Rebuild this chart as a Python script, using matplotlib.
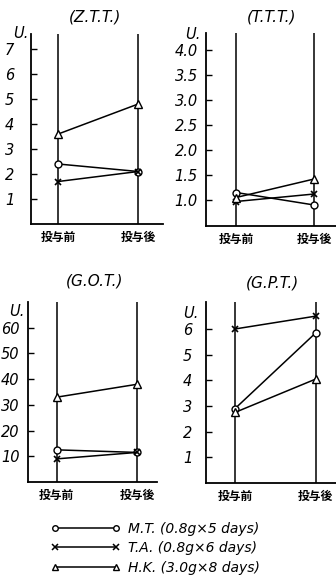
import matplotlib.pyplot as plt
from matplotlib.lines import Line2D
from matplotlib.transforms import blended_transform_factory

plt.rcParams['font.family'] = ['DejaVu Sans', 'Noto Sans CJK JP']

W, H = 336, 580

# x categories
x_pos = [0, 1]
x_labels = ['投与前', '投与後']

# (Z.T.T.)
ztt_mt = [2.4, 2.1]
ztt_ta = [1.7, 2.1]
ztt_hk = [3.6, 4.8]
ztt_ticks = [1, 2, 3, 4, 5, 6, 7]
ztt_ticklabels = ['1', '2', '3', '4', '5', '6', '7']

# (T.T.T.)
ttt_mt = [1.15, 0.9]
ttt_ta = [0.97, 1.12]
ttt_hk = [1.05, 1.42]
ttt_ticks = [1.0, 1.5, 2.0, 2.5, 3.0, 3.5, 4.0]
ttt_ticklabels = ['1.0', '1.5', '2.0', '2.5', '3.0', '3.5', '4.0']

# (G.O.T.)
got_mt = [12.5, 11.5]
got_ta = [9.0, 11.5]
got_hk = [33, 38]
got_ticks = [10, 20, 30, 40, 50, 60]
got_ticklabels = ['10', '20', '30', '40', '50', '60']

# (G.P.T.)
gpt_mt = [2.9, 5.85]
gpt_ta = [6.0, 6.5]
gpt_hk = [2.75, 4.05]
gpt_ticks = [1, 2, 3, 4, 5, 6]
gpt_ticklabels = ['1', '2', '3', '4', '5', '6']

legend_labels = ['M.T. (0.8g×5 days)', 'T.A. (0.8g×6 days)', 'H.K. (3.0g×8 days)']


def px_rect(left, right, bottom, top):
    return [left / W, (H - bottom) / H, (right - left) / W, (bottom - top) / H]


def draw_panel(fig, rect, title, title_xy, mt, ta, hk, ticks, ticklabels,
               ylim, xlim, pad, u_x):
    ax = fig.add_axes(rect)
    ax.set_xlim(*xlim)
    ax.set_ylim(*ylim)
    for s in ['top', 'right']:
        ax.spines[s].set_visible(False)
    for s in ['left', 'bottom']:
        ax.spines[s].set_linewidth(1.3)
    # vertical guide lines
    for xp in x_pos:
        ax.plot([xp, xp], [ylim[0], ylim[1]], color='black', lw=1.1)
    ax.plot(x_pos, mt, '-o', color='black', lw=1.1, ms=5, mfc='white', mec='black')
    ax.plot(x_pos, ta, '-x', color='black', lw=1.1, ms=5, mew=1.2)
    ax.plot(x_pos, hk, '-^', color='black', lw=1.1, ms=6, mfc='white', mec='black')
    ax.set_yticks(ticks)
    ax.set_yticklabels(ticklabels, fontsize=10.5, style='italic')
    ax.tick_params(axis='y', direction='in', length=4, width=1, pad=pad)
    ax.set_xticks(x_pos)
    ax.set_xticklabels(x_labels, family=['Noto Sans CJK JP'], fontsize=8.5,
                       fontweight='bold')
    ax.tick_params(axis='x', length=0, pad=5)
    trans = blended_transform_factory(ax.transAxes, ax.transData)
    ax.annotate('U.', xy=(u_x, ticks[-1]), xycoords=trans,
                xytext=(0, 6), textcoords='offset points',
                ha='right', va='bottom', fontsize=10.5, style='italic')
    fig.text(title_xy[0] / W, 1 - title_xy[1] / H, title, ha='center',
             va='center', fontsize=11, style='italic')
    return ax


fig = plt.figure(figsize=(W / 100, H / 100), dpi=100)

draw_panel(fig, px_rect(31, 163, 224, 34), '(Z.T.T.)', (95, 17),
           ztt_mt, ztt_ta, ztt_hk, ztt_ticks, ztt_ticklabels,
           (0, 7.6), (-0.34, 1.31), 12, -0.02)
draw_panel(fig, px_rect(206, 336, 226, 33), '(T.T.T.)', (272, 17),
           ttt_mt, ttt_ta, ttt_hk, ttt_ticks, ttt_ticklabels,
           (0.48, 4.34), (-0.385, 1.28), 6, -0.04)
draw_panel(fig, px_rect(28, 157, 482, 302), '(G.O.T.)', (95, 281),
           got_mt, got_ta, got_hk, got_ticks, got_ticklabels,
           (0, 70), (-0.36, 1.25), 6, -0.03)
draw_panel(fig, px_rect(206, 336, 483, 302), '(G.P.T.)', (272, 283),
           gpt_mt, gpt_ta, gpt_hk, gpt_ticks, gpt_ticklabels,
           (0, 7.05), (-0.36, 1.25), 10, -0.06)

handles = [
    Line2D([], [], color='black', lw=1.1, marker='o', ms=4, mfc='white', mec='black'),
    Line2D([], [], color='black', lw=1.1, marker='x', ms=4, mew=1.1),
    Line2D([], [], color='black', lw=1.1, marker='^', ms=5, mfc='white', mec='black'),
]
fig.legend(handles, legend_labels, loc='upper left',
           bbox_to_anchor=(38 / W, 1 - 509 / H), frameon=False, numpoints=2,
           handlelength=5.0, handletextpad=0.6, labelspacing=0.42,
           prop={'size': 10, 'style': 'italic'})

fig.savefig('out.png', dpi=100)
